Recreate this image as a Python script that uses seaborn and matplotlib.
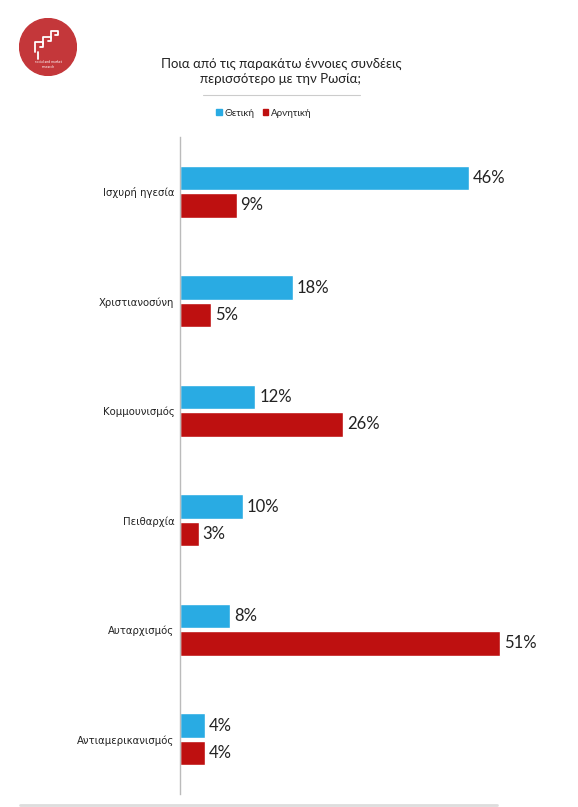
import matplotlib
matplotlib.use("Agg")
import matplotlib.pyplot as plt
from matplotlib.lines import Line2D
from matplotlib.patches import Circle
import seaborn as sns
import pandas as pd

# data
categories = ["Ισχυρή ηγεσία", "Χριστιανοσύνη", "Κομμουνισμός",
              "Πειθαρχία", "Αυταρχισμός", "Αντιαμερικανισμός"]
positive = [46, 18, 12, 10, 8, 4]
negative = [9, 5, 26, 3, 51, 4]
series_names = ["Θετική", "Αρνητική"]
colors = ["#29ABE3", "#BE1010"]

df = pd.DataFrame({
    "concept": categories * 2,
    "value": positive + negative,
    "series": [series_names[0]] * len(categories) + [series_names[1]] * len(categories),
})

sns.set_style("white")
plt.rcParams["font.family"] = ["Lato", "DejaVu Sans"]

fig = plt.figure(figsize=(5.78, 8.07), dpi=100)
ax = fig.add_axes([0.3114, 0.0161, 0.6523, 0.8141])

sns.barplot(data=df, y="concept", x="value", hue="series", order=categories,
            hue_order=series_names, palette=colors, orient="h",
            width=0.5, gap=0.1, saturation=1, legend=False, ax=ax)

ax.set_xlim(0, 60)
ax.set_ylim(len(categories) - 0.5, -0.5)
ax.set_xlabel("")
ax.set_ylabel("")
ax.set_xticks([])
for side in ["top", "right", "bottom"]:
    ax.spines[side].set_visible(False)
ax.spines["left"].set_color("#BBBBBB")
ax.spines["left"].set_linewidth(1)
ax.tick_params(axis="y", which="major", length=0, pad=4, labelsize=7.3,
               labelcolor="#222222")
for lbl in ax.get_yticklabels():
    lbl.set_family("DejaVu Sans")
ax.set_yticks([i + 0.5 for i in range(len(categories))], minor=True)
ax.tick_params(axis="y", which="minor", length=3, color="#BBBBBB", direction="out")

for cont in ax.containers:
    for bar in cont:
        w = bar.get_width()
        ax.text(w + 0.6, bar.get_y() + bar.get_height() / 2, f"{w:.0f}%",
                va="center", ha="left", fontsize=12, color="#222222")

# title, divider and legend
fig.text(0.486, 1 - 71 / 807, "Ποια από τις παρακάτω έννοιες συνδέεις\nπερισσότερο με την Ρωσία;",
         ha="center", va="center", fontsize=9.5, color="#222222", linespacing=1.3)
fig.add_artist(Line2D([203 / 578, 360 / 578], [1 - 95 / 807] * 2,
                      color="#CCCCCC", lw=0.8))
handles = [plt.Rectangle((0, 0), 1, 1, color=c) for c in colors]
fig.legend(handles, series_names, loc="center", bbox_to_anchor=(264 / 578, 1 - 113 / 807),
           ncol=2, frameon=False, fontsize=7, handlelength=0.6, handleheight=0.6,
           handletextpad=0.3, columnspacing=0.8)

# logo
logo = fig.add_axes([19 / 578, 1 - 76 / 807, 58 / 578, 58 / 807])
logo.set_xlim(0, 1)
logo.set_ylim(0, 1)
logo.set_aspect("equal")
logo.axis("off")
logo.add_patch(Circle((0.5, 0.5), 0.49, color="#C4373A"))
logo.plot([0.28, 0.28, 0.42, 0.42, 0.36], [0.42, 0.58, 0.58, 0.5, 0.5], color="white", lw=1.3)
logo.plot([0.42, 0.42, 0.56, 0.56, 0.5], [0.55, 0.68, 0.68, 0.6, 0.6], color="white", lw=1.3)
logo.plot([0.56, 0.56, 0.68, 0.68, 0.62], [0.65, 0.78, 0.78, 0.7, 0.7], color="white", lw=1.3)
logo.plot([0.32, 0.32], [0.42, 0.3], color="white", lw=1.3)
logo.text(0.5, 0.2, "social and market\nresearch", ha="center", va="center",
          fontsize=2.5, color="white")

# bottom rule
fig.add_artist(Line2D([20 / 578, 497 / 578], [1 - 805 / 807] * 2, color="#DDDDDD", lw=2))

fig.savefig("out.png", dpi=100, facecolor="white")
